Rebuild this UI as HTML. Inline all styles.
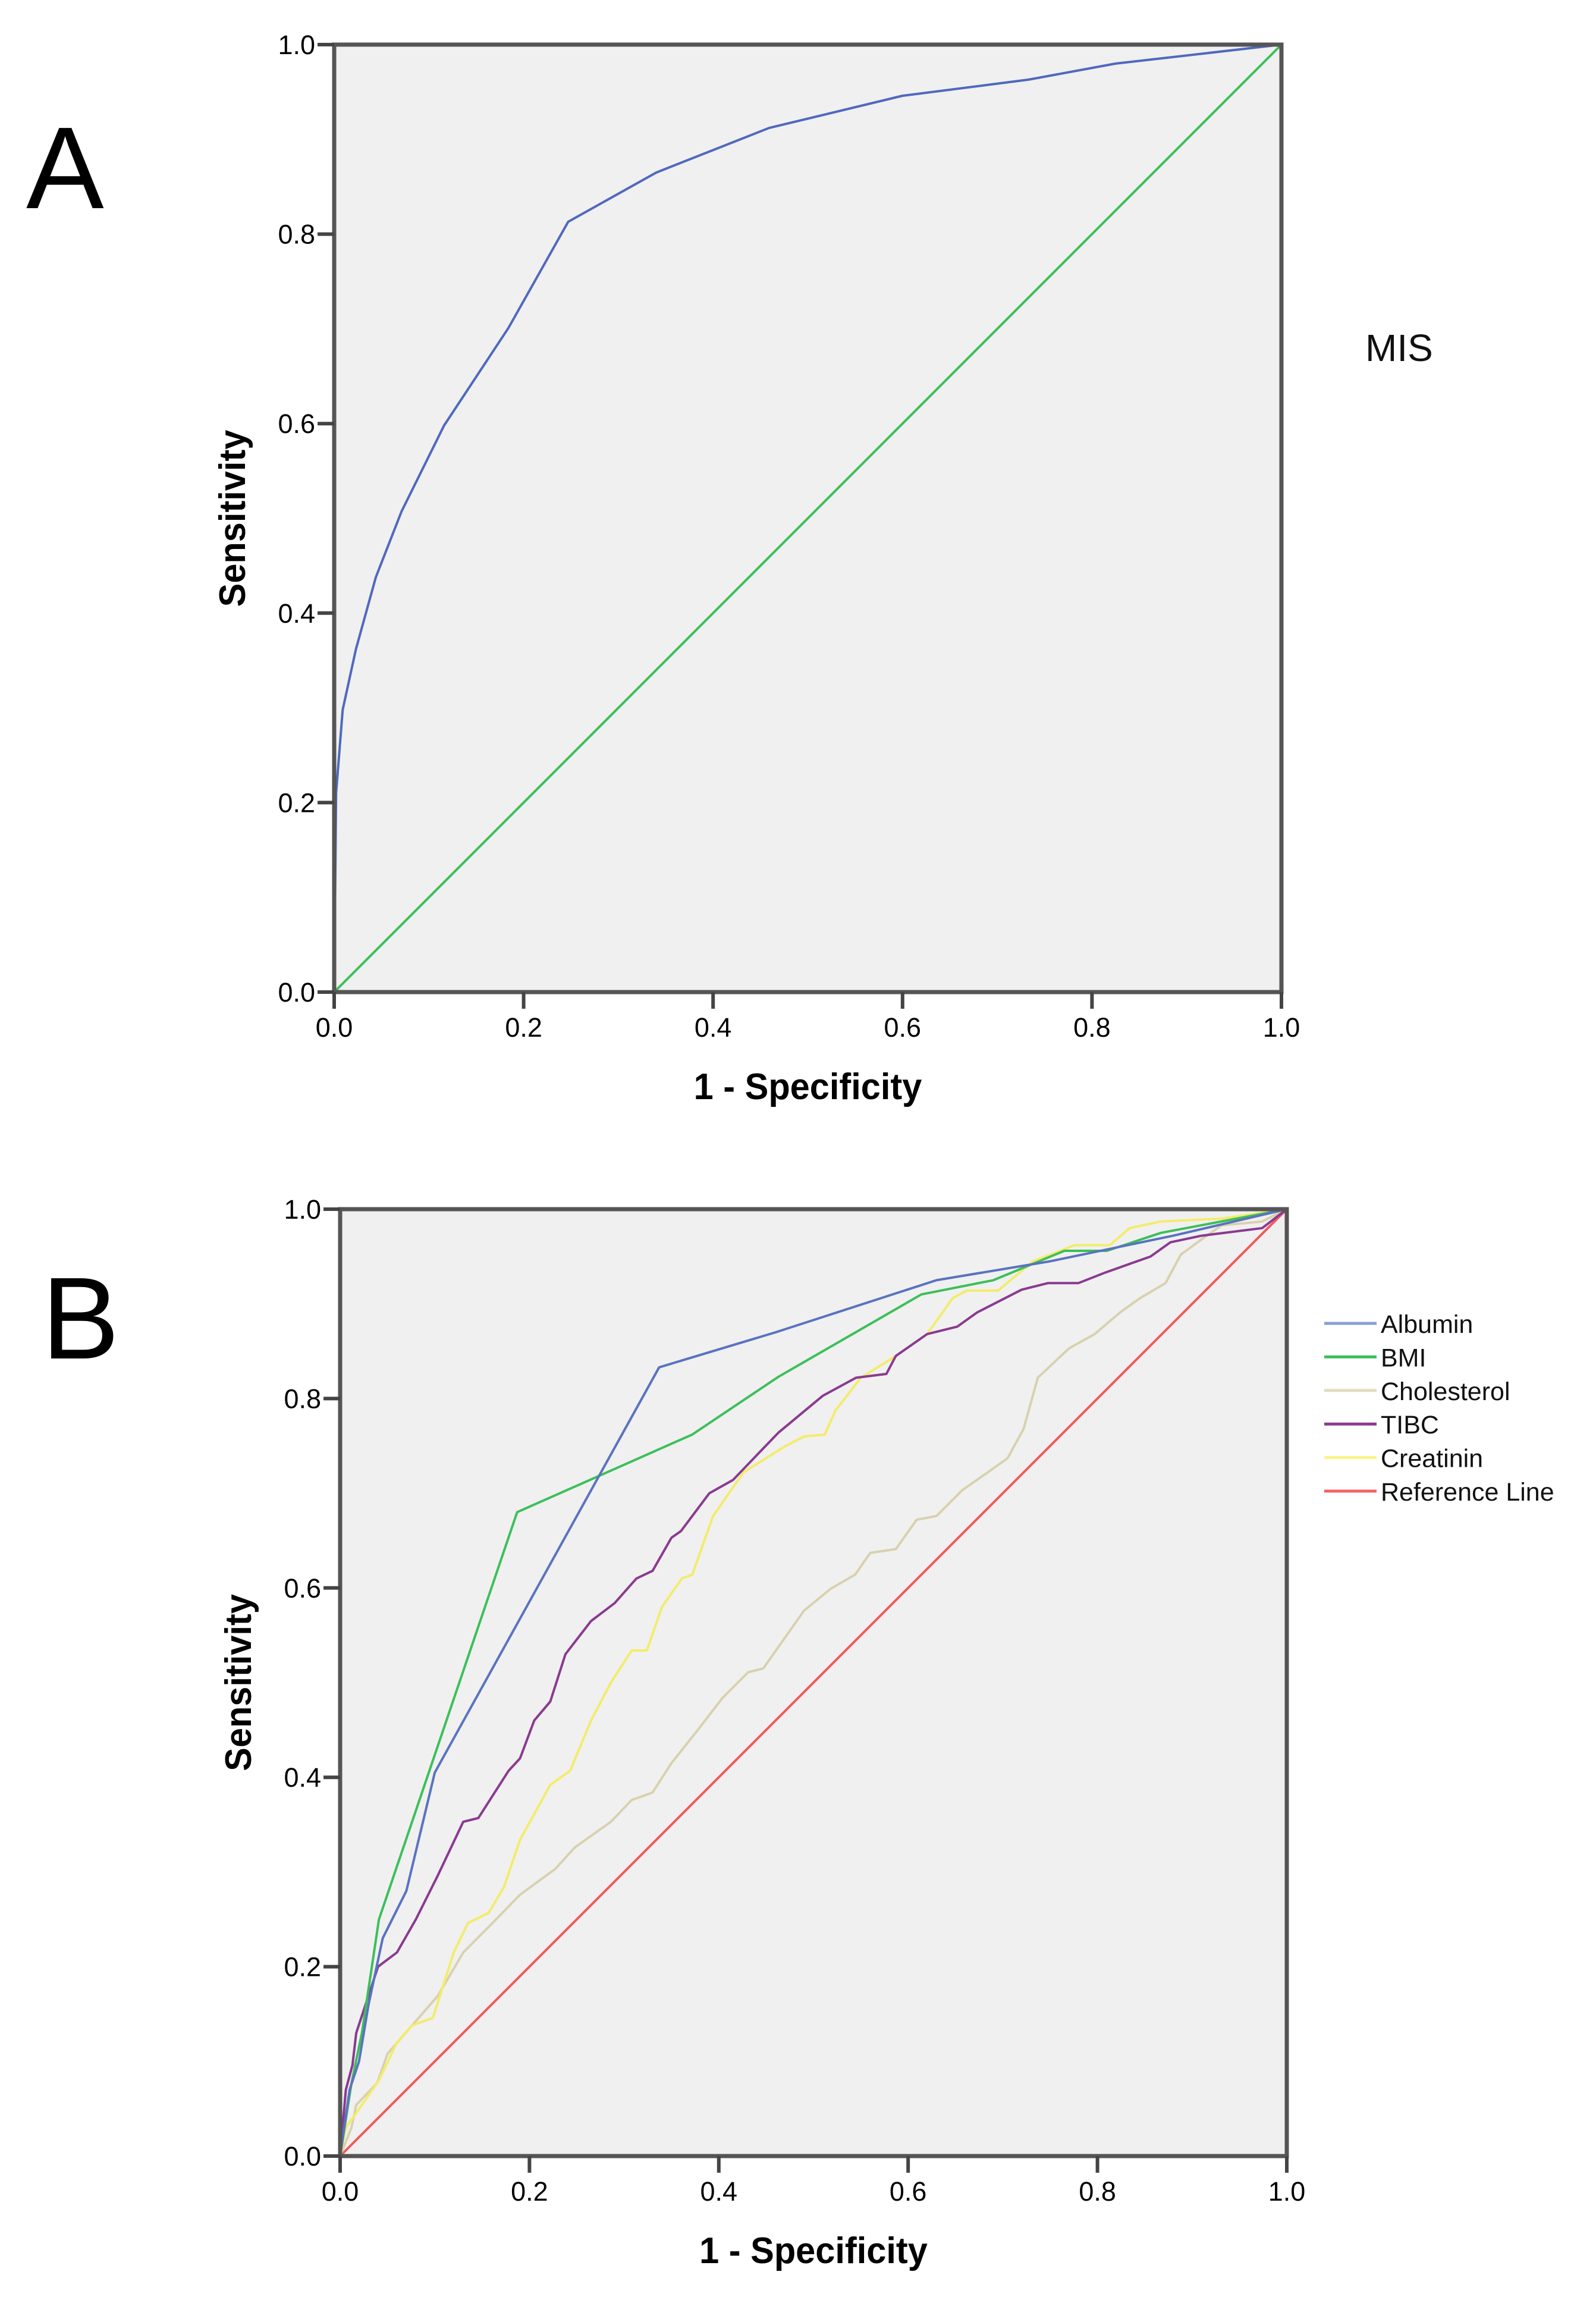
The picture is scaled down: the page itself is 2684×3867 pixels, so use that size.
<!DOCTYPE html>
<html><head><meta charset="utf-8">
<style>
html,body{margin:0;padding:0;background:#fff;}
body{width:2684px;height:3867px;overflow:hidden;position:relative;font-family:"Liberation Sans",sans-serif;}
svg{position:absolute;left:0;top:0;}
</style></head>
<body>
<svg id="chart" width="2684" height="3867" viewBox="0 0 2684 3867"></svg>
<script>
const tickValues = [0, 0.2, 0.4, 0.6, 0.8, 1.0];
const tickLabels = ["0.0", "0.2", "0.4", "0.6", "0.8", "1.0"];

const misX = [0, 0.002, 0.009, 0.023, 0.044, 0.071, 0.116, 0.184, 0.247, 0.34, 0.459, 0.6, 0.733, 0.825, 1];
const misY = [0, 0.21, 0.298, 0.362, 0.438, 0.507, 0.598, 0.701, 0.813, 0.865, 0.912, 0.946, 0.963, 0.98, 1];

const albX = [0, 0.01, 0.02, 0.03, 0.045, 0.07, 0.1, 0.337, 0.46, 0.63, 0.75, 0.88, 1];
const albY = [0, 0.07, 0.1, 0.16, 0.23, 0.28, 0.405, 0.833, 0.87, 0.925, 0.945, 0.972, 1];

const bmiX = [0, 0.012, 0.023, 0.041, 0.187, 0.372, 0.463, 0.614, 0.69, 0.765, 0.81, 0.867, 1];
const bmiY = [0, 0.077, 0.13, 0.25, 0.68, 0.762, 0.823, 0.91, 0.925, 0.956, 0.956, 0.975, 1];

const cholX = [0, 0.012, 0.017, 0.039, 0.05, 0.076, 0.103, 0.13, 0.157, 0.19, 0.227, 0.248, 0.286, 0.308, 0.33, 0.35, 0.377, 0.404, 0.431, 0.447, 0.49, 0.518, 0.544, 0.56, 0.587, 0.609, 0.63, 0.657, 0.684, 0.705, 0.722, 0.737, 0.77, 0.797, 0.824, 0.845, 0.872, 0.888, 0.91, 0.931, 0.974, 1];
const cholY = [0, 0.03, 0.054, 0.077, 0.108, 0.138, 0.169, 0.215, 0.242, 0.276, 0.303, 0.326, 0.353, 0.376, 0.384, 0.415, 0.449, 0.484, 0.511, 0.515, 0.576, 0.599, 0.614, 0.637, 0.641, 0.672, 0.676, 0.703, 0.722, 0.737, 0.768, 0.822, 0.853, 0.868, 0.891, 0.906, 0.922, 0.952, 0.968, 0.983, 0.987, 1];

const tibcX = [0, 0.006, 0.013, 0.017, 0.04, 0.06, 0.08, 0.103, 0.13, 0.146, 0.178, 0.19, 0.205, 0.222, 0.238, 0.265, 0.29, 0.313, 0.33, 0.35, 0.36, 0.39, 0.415, 0.437, 0.463, 0.51, 0.545, 0.577, 0.587, 0.62, 0.652, 0.673, 0.72, 0.748, 0.78, 0.808, 0.856, 0.877, 0.91, 0.974, 1];
const tibcY = [0, 0.07, 0.096, 0.13, 0.2, 0.215, 0.25, 0.296, 0.353, 0.357, 0.407, 0.42, 0.46, 0.48, 0.53, 0.565, 0.584, 0.61, 0.618, 0.653, 0.66, 0.7, 0.714, 0.737, 0.764, 0.803, 0.822, 0.826, 0.845, 0.868, 0.876, 0.891, 0.915, 0.922, 0.922, 0.933, 0.95, 0.965, 0.972, 0.98, 1];

const creaX = [0, 0.006, 0.023, 0.041, 0.06, 0.076, 0.098, 0.12, 0.135, 0.157, 0.173, 0.19, 0.222, 0.243, 0.265, 0.286, 0.308, 0.324, 0.34, 0.361, 0.372, 0.394, 0.426, 0.469, 0.49, 0.512, 0.523, 0.55, 0.587, 0.62, 0.647, 0.662, 0.695, 0.732, 0.776, 0.813, 0.834, 0.867, 0.931, 1];
const creaY = [0, 0.03, 0.054, 0.08, 0.12, 0.138, 0.146, 0.215, 0.246, 0.257, 0.284, 0.334, 0.392, 0.407, 0.46, 0.5, 0.534, 0.534, 0.58, 0.61, 0.614, 0.676, 0.722, 0.749, 0.76, 0.762, 0.787, 0.822, 0.845, 0.868, 0.906, 0.914, 0.914, 0.945, 0.962, 0.962, 0.98, 0.987, 0.99, 1];

const refX = [0, 1];
const refY = [0, 1];

const seriesNames = ["Albumin", "BMI", "Cholesterol", "TIBC", "Creatinin", "Reference Line"];

const NS = "http://www.w3.org/2000/svg";
const svg = document.getElementById("chart");
function mk(tag, attrs, parent) {
  const e = document.createElementNS(NS, tag);
  for (const k in attrs) e.setAttribute(k, attrs[k]);
  (parent || svg).appendChild(e);
  return e;
}

function panel(p) {
  const g = mk("g", {});
  
  
  const sx = v => p.x0 + v * (p.x1 - p.x0);
  const sy = v => p.y1 - v * (p.y1 - p.y0);
  const bg = mk("rect", {x: p.x0, y: p.y0, width: p.x1 - p.x0, height: p.y1 - p.y0, fill: "#f0f0f0"}, g);
  
  
  p.series.forEach(s => {
    const pts = s.x.map((v, i) => sx(v).toFixed(1) + "," + sy(s.y[i]).toFixed(1)).join(" ");
    const pl = mk("polyline", {points: pts, fill: "none", stroke: s.color, "stroke-width": 4, "stroke-linejoin": "round"}, g);
    
    
  });
  const fr = mk("rect", {x: p.x0, y: p.y0, width: p.x1 - p.x0, height: p.y1 - p.y0, fill: "none", stroke: "#555", "stroke-width": 7}, g);
  
  
  tickValues.forEach((v, i) => {
    const ty = sy(v);
    const t1 = mk("line", {x1: p.x0 - 28, x2: p.x0, y1: ty, y2: ty, stroke: "#444", "stroke-width": 6}, g);
    
    
    const l1 = mk("text", {x: p.x0 - 32, y: ty + 16, "text-anchor": "end", "font-size": 45, fill: "#000"}, g);
    l1.textContent = tickLabels[i];
    
    
    const tx = sx(v);
    const t2 = mk("line", {x1: tx, x2: tx, y1: p.y1, y2: p.y1 + 28, stroke: "#444", "stroke-width": 6}, g);
    
    
    const l2 = mk("text", {x: tx, y: p.y1 + 75, "text-anchor": "middle", "font-size": 45, fill: "#000"}, g);
    l2.textContent = tickLabels[i];
    
    
  });
  const cx = (p.x0 + p.x1) / 2;
  const xt = mk("text", {x: cx, y: p.y1 + 180, "text-anchor": "middle", "font-size": 62, "font-weight": "bold", fill: "#000", transform: `translate(${cx} 0) scale(0.96 1) translate(${-cx} 0)`}, g);
  xt.textContent = "1 - Specificity";
  
  
  const cy = (p.y0 + p.y1) / 2;
  const yt = mk("text", {x: 0, y: 0, "text-anchor": "middle", "font-size": 62, "font-weight": "bold", fill: "#000", transform: `translate(${p.x0 - 150} ${cy}) rotate(-90) scale(0.96 1)`}, g);
  yt.textContent = "Sensitivity";
  
  
  const lab = mk("text", {x: p.labX, y: p.labY, "font-size": 196, fill: "#000"}, g);
  lab.textContent = p.label;
  
  
  return {sx, sy, g};
}

panel({name: "panel-a", x0: 562, x1: 2155, y0: 75, y1: 1668, label: "A", labX: 44, labY: 350,
  series: [
    {name: "reference-line-a", x: refX, y: refY, color: "#3cbf5a"},
    {name: "mis-curve", x: misX, y: misY, color: "#5068be"}
  ]});

const misLab = mk("text", {x: 2296, y: 607, "font-size": 64, fill: "#111"});
misLab.textContent = "MIS";



panel({name: "panel-b", x0: 572, x1: 2164, y0: 2033, y1: 3625, label: "B", labX: 70, labY: 2284,
  series: [
    {name: "reference-line", x: refX, y: refY, color: "#f05a5a"},
    {name: "cholesterol-curve", x: cholX, y: cholY, color: "#d8d1ae"},
    {name: "creatinin-curve", x: creaX, y: creaY, color: "#f3ec6a"},
    {name: "tibc-curve", x: tibcX, y: tibcY, color: "#8a3a90"},
    {name: "bmi-curve", x: bmiX, y: bmiY, color: "#3cbf5a"},
    {name: "albumin-curve", x: albX, y: albY, color: "#5a72c0"}
  ]});

const legColors = ["#8a9ed2", "#3cbf5a", "#e2dcc0", "#8a3a90", "#f8f488", "#f06466"];
seriesNames.forEach((n, i) => {
  const y = 2225 + i * 56.4;
  const ln = mk("line", {x1: 2227, x2: 2315, y1: y, y2: y, stroke: legColors[i], "stroke-width": 5});
  
  
  const t = mk("text", {x: 2322, y: y + 16, "font-size": 43, fill: "#111"});
  t.textContent = n;
  
  
});
</script>
</body></html>
